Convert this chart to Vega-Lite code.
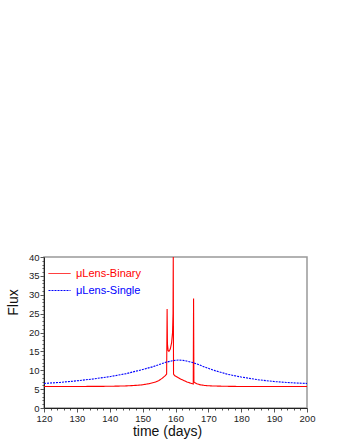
{
  "$schema": "https://vega.github.io/schema/vega-lite/v6.json",
  "autosize": {"type": "none"},
  "width": 263,
  "height": 151,
  "padding": {"left": 44, "top": 257, "right": 33, "bottom": 32},
  "background": "white",
  "config": {
    "font": "Liberation Sans",
    "view": {"stroke": "#999999", "strokeWidth": 1.5},
    "axis": {"grid": false, "domainColor": "#222222", "tickColor": "#555555", "labelColor": "#222222", "titleColor": "#111111", "labelFont": "Liberation Sans", "titleFont": "Liberation Sans", "titleFontWeight": "normal"}
  },
  "data": {"values": [
    {"series": "μLens-Binary", "time": 120, "flux": 5.7},
    {"series": "μLens-Binary", "time": 130, "flux": 5.7},
    {"series": "μLens-Binary", "time": 140, "flux": 5.75},
    {"series": "μLens-Binary", "time": 145, "flux": 5.85},
    {"series": "μLens-Binary", "time": 148, "flux": 6.0},
    {"series": "μLens-Binary", "time": 150, "flux": 6.15},
    {"series": "μLens-Binary", "time": 152, "flux": 6.45},
    {"series": "μLens-Binary", "time": 154, "flux": 6.9},
    {"series": "μLens-Binary", "time": 155, "flux": 7.3},
    {"series": "μLens-Binary", "time": 156, "flux": 7.9},
    {"series": "μLens-Binary", "time": 156.8, "flux": 8.5},
    {"series": "μLens-Binary", "time": 157.3, "flux": 9.0},
    {"series": "μLens-Binary", "time": 157.45, "flux": 26.2},
    {"series": "μLens-Binary", "time": 157.55, "flux": 17},
    {"series": "μLens-Binary", "time": 157.75, "flux": 15.2},
    {"series": "μLens-Binary", "time": 158.0, "flux": 15.0},
    {"series": "μLens-Binary", "time": 158.4, "flux": 15.6},
    {"series": "μLens-Binary", "time": 158.8, "flux": 17.2},
    {"series": "μLens-Binary", "time": 159.1, "flux": 20},
    {"series": "μLens-Binary", "time": 159.25, "flux": 25},
    {"series": "μLens-Binary", "time": 159.32, "flux": 40},
    {"series": "μLens-Binary", "time": 159.4, "flux": 9.0},
    {"series": "μLens-Binary", "time": 159.7, "flux": 8.6},
    {"series": "μLens-Binary", "time": 160.5, "flux": 8.2},
    {"series": "μLens-Binary", "time": 161.5, "flux": 7.7},
    {"series": "μLens-Binary", "time": 162.5, "flux": 7.3},
    {"series": "μLens-Binary", "time": 163.5, "flux": 6.9},
    {"series": "μLens-Binary", "time": 164.5, "flux": 6.6},
    {"series": "μLens-Binary", "time": 165.4, "flux": 6.35},
    {"series": "μLens-Binary", "time": 165.5, "flux": 29},
    {"series": "μLens-Binary", "time": 165.6, "flux": 6.9},
    {"series": "μLens-Binary", "time": 165.9, "flux": 6.7},
    {"series": "μLens-Binary", "time": 166.5, "flux": 6.4},
    {"series": "μLens-Binary", "time": 167.5, "flux": 6.15},
    {"series": "μLens-Binary", "time": 169, "flux": 5.95},
    {"series": "μLens-Binary", "time": 171, "flux": 5.85},
    {"series": "μLens-Binary", "time": 175, "flux": 5.75},
    {"series": "μLens-Binary", "time": 180, "flux": 5.7},
    {"series": "μLens-Binary", "time": 190, "flux": 5.7},
    {"series": "μLens-Binary", "time": 200, "flux": 5.7},
    {"series": "μLens-Single", "time": 120, "flux": 6.5},
    {"series": "μLens-Single", "time": 125, "flux": 6.8},
    {"series": "μLens-Single", "time": 130, "flux": 7.2},
    {"series": "μLens-Single", "time": 135, "flux": 7.7},
    {"series": "μLens-Single", "time": 140, "flux": 8.3},
    {"series": "μLens-Single", "time": 145, "flux": 9.1},
    {"series": "μLens-Single", "time": 150, "flux": 10.2},
    {"series": "μLens-Single", "time": 153, "flux": 10.9},
    {"series": "μLens-Single", "time": 155, "flux": 11.5},
    {"series": "μLens-Single", "time": 157, "flux": 12.1},
    {"series": "μLens-Single", "time": 159, "flux": 12.5},
    {"series": "μLens-Single", "time": 160, "flux": 12.65},
    {"series": "μLens-Single", "time": 161, "flux": 12.7},
    {"series": "μLens-Single", "time": 162, "flux": 12.65},
    {"series": "μLens-Single", "time": 163, "flux": 12.5},
    {"series": "μLens-Single", "time": 165, "flux": 12.1},
    {"series": "μLens-Single", "time": 167, "flux": 11.5},
    {"series": "μLens-Single", "time": 169, "flux": 10.8},
    {"series": "μLens-Single", "time": 172, "flux": 9.9},
    {"series": "μLens-Single", "time": 176, "flux": 8.9},
    {"series": "μLens-Single", "time": 180, "flux": 8.2},
    {"series": "μLens-Single", "time": 185, "flux": 7.5},
    {"series": "μLens-Single", "time": 190, "flux": 7.0},
    {"series": "μLens-Single", "time": 195, "flux": 6.7},
    {"series": "μLens-Single", "time": 200, "flux": 6.5}
  ]},
  "mark": {"type": "line", "strokeWidth": 1.1, "clip": true},
  "encoding": {
    "x": {
      "field": "time", "type": "quantitative",
      "scale": {"domain": [120, 200], "nice": false, "zero": false},
      "axis": {
        "title": "time (days)", "titleFontSize": 14, "titlePadding": 2, "titleX": 123,
        "values": [120,122,124,126,128,130,132,134,136,138,140,142,144,146,148,150,152,154,156,158,160,162,164,166,168,170,172,174,176,178,180,182,184,186,188,190,192,194,196,198,200],
        "labelExpr": "datum.value % 10 === 0 ? datum.label : ''",
        "labelOverlap": false, "labelFlush": false, "labelFontSize": 9.5, "labelPadding": 1,
        "tickSize": {"condition": {"test": "datum.value % 10 === 0", "value": 4}, "value": 2}
      }
    },
    "y": {
      "field": "flux", "type": "quantitative",
      "scale": {"domain": [0, 40], "nice": false},
      "axis": {
        "title": "Flux", "titleFontSize": 14, "titlePadding": 8, "titleY": 45,
        "values": [0,1,2,3,4,5,6,7,8,9,10,11,12,13,14,15,16,17,18,19,20,21,22,23,24,25,26,27,28,29,30,31,32,33,34,35,36,37,38,39,40],
        "labelExpr": "datum.value % 5 === 0 ? datum.label : ''",
        "labelOverlap": false, "labelFlush": false, "labelFontSize": 9.5, "labelPadding": 1,
        "tickSize": {"condition": {"test": "datum.value % 5 === 0", "value": 4}, "value": 2}
      }
    },
    "color": {
      "field": "series", "type": "nominal",
      "scale": {"domain": ["μLens-Binary", "μLens-Single"], "range": ["#ff0000", "#0000ff"]},
      "legend": {
        "title": null, "orient": "none", "legendX": 4, "legendY": 5,
        "symbolType": "stroke", "symbolSize": 484, "symbolStrokeWidth": 1,
        "labelFontSize": 11, "labelOffset": 5, "rowPadding": -11, "padding": 0,
        "encode": {"labels": {"update": {"fill": {"signal": "datum.value === 'μLens-Binary' ? '#ff0000' : '#0000ff'"}}}}
      }
    },
    "strokeDash": {
      "field": "series", "type": "nominal",
      "scale": {"domain": ["μLens-Binary", "μLens-Single"], "range": [[1, 0], [2, 1]]},
      "legend": null
    }
  }
}
